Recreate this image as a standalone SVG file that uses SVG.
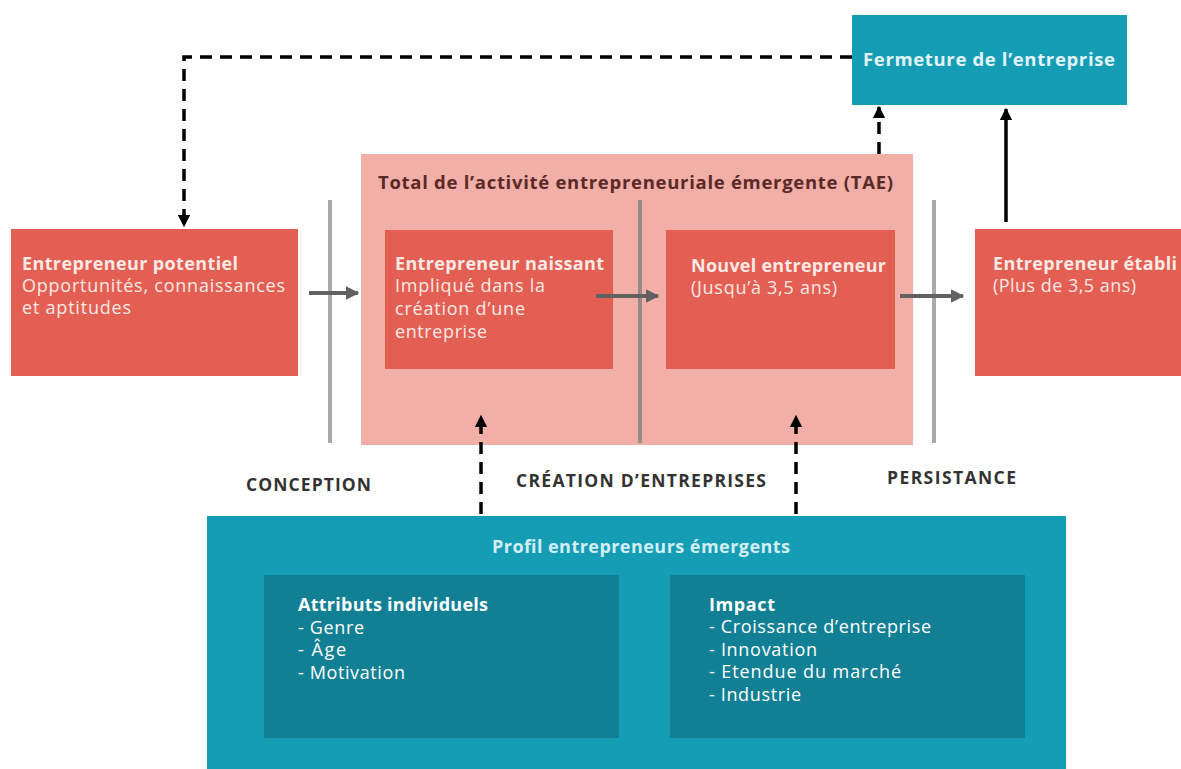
<svg xmlns="http://www.w3.org/2000/svg" width="1181" height="769" viewBox="0 0 1181 769">
<defs>
<style>
text{font-family:"Open Sans","Liberation Sans",sans-serif;font-size:18px;}
.red{fill:#E35F53;}
.t{fill:#FCE9E6;}
.b{font-weight:700;}
.h{font-size:18.5px;}
.lab{fill:#333333;font-size:17.5px;font-weight:700;}
.teal{fill:#169DB6;}
.dteal{fill:#117F94;}
.w{fill:#FFFFFF;}
.sep{stroke:#AAAAAA;stroke-width:4;}
.gar{stroke:#616161;stroke-width:4;fill:none;}
.dash{stroke:#000;stroke-width:3.5;stroke-dasharray:12,8;fill:none;}
</style>
<marker id="ga" viewBox="0 0 10 10" refX="9" refY="5" markerWidth="3.4" markerHeight="3.4" orient="auto"><path d="M0,0L10,5L0,10z" fill="#616161"/></marker>
<marker id="ka" viewBox="0 0 10 10" refX="9" refY="5" markerWidth="3.6" markerHeight="3.6" orient="auto"><path d="M0,0L10,5L0,10z" fill="#000"/></marker>
</defs>

<g id="tae">
<rect x="361" y="154" width="552" height="291" fill="#F1AFA7"/>
<text x="378" y="189" class="b h" style="fill:#5A2A28" textLength="515" lengthAdjust="spacing">Total de l’activité entrepreneuriale émergente (TAE)</text>
</g>

<g id="separators">
<line class="sep" x1="330" y1="200" x2="330" y2="443"/>
<line class="sep" x1="640" y1="200" x2="640" y2="443" style="stroke:#9A8886"/>
<line class="sep" x1="934" y1="200" x2="934" y2="443"/>
</g>

<g id="fermeture">
<rect class="teal" x="852" y="15" width="275" height="90"/>
<text class="b h" x="863" y="66" style="fill:#E2F3F6" textLength="252" lengthAdjust="spacing">Fermeture de l’entreprise</text>
</g>

<g id="potentiel">
<rect class="red" x="11" y="229" width="287" height="147"/>
<text class="t b" x="22" y="270" textLength="216" lengthAdjust="spacing">Entrepreneur potentiel</text>
<text class="t" x="22" y="292" textLength="263" lengthAdjust="spacing">Opportunités, connaissances</text>
<text class="t" x="22" y="314" textLength="109" lengthAdjust="spacing">et aptitudes</text>
</g>

<g id="naissant">
<rect class="red" x="385" y="230" width="228" height="139"/>
<text class="t b" x="395" y="270" textLength="209" lengthAdjust="spacing">Entrepreneur naissant</text>
<text class="t" x="395" y="292" textLength="150" lengthAdjust="spacing">Impliqué dans la</text>
<text class="t" x="395" y="315" textLength="130" lengthAdjust="spacing">création d’une</text>
<text class="t" x="395" y="338" textLength="92" lengthAdjust="spacing">entreprise</text>
</g>

<g id="nouvel">
<rect class="red" x="666" y="230" width="229" height="139"/>
<text class="t b" x="691" y="272" textLength="195" lengthAdjust="spacing">Nouvel entrepreneur</text>
<text class="t" x="691" y="294" textLength="146" lengthAdjust="spacing">(Jusqu’à 3,5 ans)</text>
</g>

<g id="etabli">
<rect class="red" x="975" y="229" width="206" height="147"/>
<text class="t b" x="993" y="270" textLength="184" lengthAdjust="spacing">Entrepreneur établi</text>
<text class="t" x="993" y="292" textLength="143" lengthAdjust="spacing">(Plus de 3,5 ans)</text>
</g>

<g id="labels">
<text class="lab" x="246" y="491" textLength="125" lengthAdjust="spacing">CONCEPTION</text>
<text class="lab" x="516" y="487" textLength="250" lengthAdjust="spacing">CRÉATION D’ENTREPRISES</text>
<text class="lab" x="887" y="484" textLength="129" lengthAdjust="spacing">PERSISTANCE</text>
</g>

<g id="profil">
<rect class="teal" x="207" y="516" width="859" height="253"/>
<text class="b" x="492" y="553" style="fill:#D3EEF3" textLength="298" lengthAdjust="spacing">Profil entrepreneurs émergents</text>
<g id="attributs">
<rect class="dteal" x="264" y="575" width="355" height="163"/>
<text class="w b" x="298" y="611" textLength="190" lengthAdjust="spacing">Attributs individuels</text>
<text class="w" x="298" y="634" textLength="66" lengthAdjust="spacing">- Genre</text>
<text class="w" x="298" y="656" textLength="48" lengthAdjust="spacing">- Âge</text>
<text class="w" x="298" y="679" textLength="107" lengthAdjust="spacing">- Motivation</text>
</g>
<g id="impact">
<rect class="dteal" x="670" y="575" width="355" height="163"/>
<text class="w b" x="709" y="611" textLength="66" lengthAdjust="spacing">Impact</text>
<text class="w" x="709" y="633" textLength="222" lengthAdjust="spacing">- Croissance d’entreprise</text>
<text class="w" x="709" y="656" textLength="108" lengthAdjust="spacing">- Innovation</text>
<text class="w" x="709" y="678" textLength="192" lengthAdjust="spacing">- Etendue du marché</text>
<text class="w" x="709" y="701" textLength="92" lengthAdjust="spacing">- Industrie</text>
</g>
</g>

<g id="connectors">
<line class="gar" x1="309" y1="293" x2="358" y2="293" marker-end="url(#ga)"/>
<line class="gar" x1="596" y1="296" x2="658" y2="296" marker-end="url(#ga)"/>
<line class="gar" x1="900" y1="296" x2="963" y2="296" marker-end="url(#ga)"/>
<path class="dash" d="M852,57 H184 V226" marker-end="url(#ka)"/>
<path class="dash" d="M879,154 V107" marker-end="url(#ka)"/>
<line x1="1006" y1="222" x2="1006" y2="109" stroke="#000" stroke-width="3.5" marker-end="url(#ka)"/>
<path class="dash" d="M481,514 V416" marker-end="url(#ka)"/>
<path class="dash" d="M796,514 V416" marker-end="url(#ka)"/>
</g>
</svg>
